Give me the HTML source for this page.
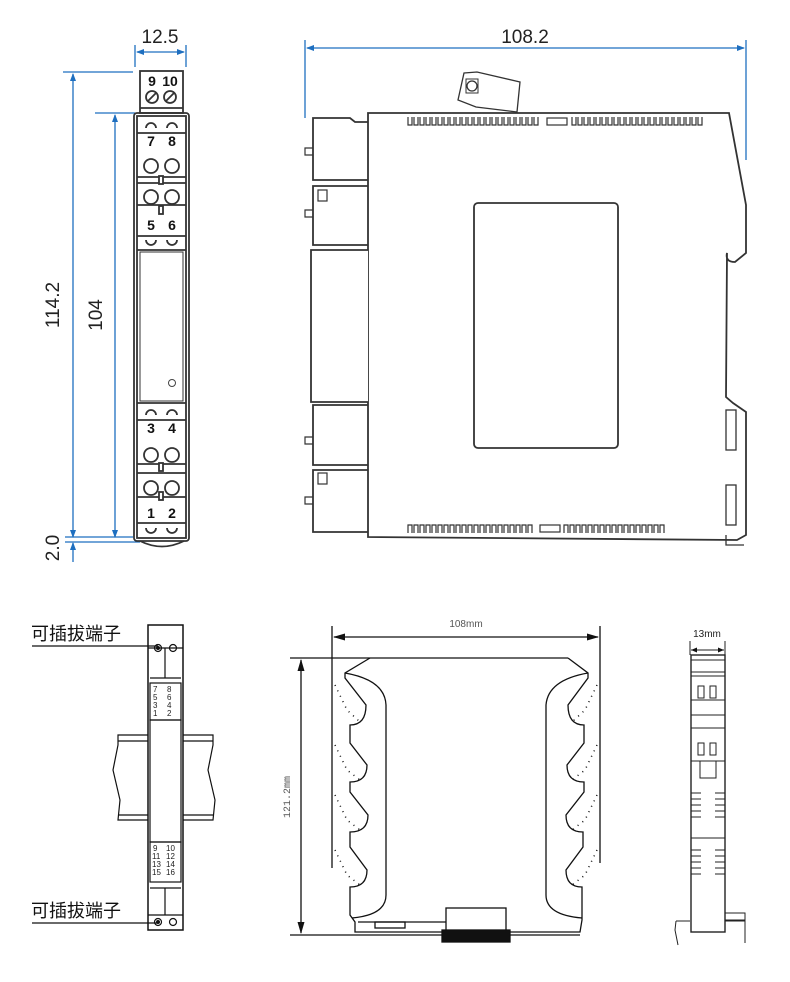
<!DOCTYPE html>
<html><head><meta charset="utf-8"><style>
html,body{margin:0;padding:0;background:#fff;}
svg{display:block;}
.b{stroke:#1e6fc0;stroke-width:1.3;fill:none}
.k{stroke:#333;stroke-width:1.8;fill:none}
.t{stroke:#444;stroke-width:1;fill:none}
.bt{font-family:"Liberation Sans",sans-serif;fill:#222}
</style></head><body>
<svg width="790" height="982" viewBox="0 0 790 982" xmlns="http://www.w3.org/2000/svg">
<defs>
<marker id="ab" markerWidth="8" markerHeight="8" refX="7" refY="4" orient="auto-start-reverse" markerUnits="userSpaceOnUse"><path d="M0,1 L8,4 L0,7 z" fill="#1e6fc0"/></marker>
<marker id="ak" markerWidth="12" markerHeight="8" refX="11" refY="4" orient="auto-start-reverse" markerUnits="userSpaceOnUse"><path d="M0,0.5 L12,4 L0,7.5 z" fill="#111"/></marker>
<marker id="as" markerWidth="6" markerHeight="6" refX="6" refY="3" orient="auto-start-reverse" markerUnits="userSpaceOnUse"><path d="M0,0.5 L6,3 L0,5.5 z" fill="#111"/></marker>
</defs>

<!-- ===== Top-left front view ===== -->
<g class="b">
<line x1="135" y1="45" x2="135" y2="67"/><line x1="186" y1="45" x2="186" y2="67"/>
<line x1="137" y1="52" x2="184" y2="52" marker-start="url(#ab)" marker-end="url(#ab)"/>
<line x1="63" y1="72" x2="133" y2="72"/><line x1="95" y1="113" x2="135" y2="113"/>
<line x1="73" y1="74" x2="73" y2="537" marker-start="url(#ab)" marker-end="url(#ab)"/>
<line x1="115" y1="115" x2="115" y2="537" marker-start="url(#ab)" marker-end="url(#ab)"/>
<line x1="65" y1="537" x2="133" y2="537"/><line x1="65" y1="542" x2="140" y2="542"/>
<line x1="73" y1="562" x2="73" y2="543" marker-end="url(#ab)"/>
</g>
<text class="bt" x="160" y="43" font-size="19" text-anchor="middle">12.5</text>
<text class="bt" font-size="19" transform="translate(59,305) rotate(-90)" text-anchor="middle">114.2</text>
<text class="bt" font-size="19" transform="translate(102,315) rotate(-90)" text-anchor="middle">104</text>
<text class="bt" font-size="19" transform="translate(59,548) rotate(-90)" text-anchor="middle">2.0</text>

<g class="k">
<rect x="140" y="71" width="43" height="42" fill="#fff"/>
<line x1="140" y1="108" x2="183" y2="108"/>
<rect x="134" y="113" width="55" height="428" rx="3"/>
<rect x="137" y="116" width="49" height="422"/>
<path d="M140 541 Q162 552 184 541"/>
<line x1="137" y1="250" x2="186" y2="250"/><line x1="137" y1="403" x2="186" y2="403"/>
<line x1="137" y1="183" x2="186" y2="183"/><line x1="137" y1="473" x2="186" y2="473"/>
<rect x="140" y="252" width="43" height="149" fill="none" stroke-width="1"/>
</g>
<circle cx="172" cy="383" r="3.5" class="t"/>
<g font-family="Liberation Sans,sans-serif" font-weight="bold" font-size="14" fill="#111" text-anchor="middle">
<text x="152" y="86">9</text><text x="170" y="86">10</text>
<text x="151" y="146">7</text><text x="172" y="146">8</text>
<text x="151" y="230">5</text><text x="172" y="230">6</text>
<text x="151" y="433">3</text><text x="172" y="433">4</text>
<text x="151" y="518">1</text><text x="172" y="518">2</text>
</g>
<g class="k" stroke-width="2.2">
<circle cx="152" cy="97" r="6"/><circle cx="170" cy="97" r="6"/>
<line x1="148" y1="101" x2="156" y2="93"/><line x1="166" y1="101" x2="174" y2="93"/>
<circle cx="151" cy="166" r="7"/><circle cx="172" cy="166" r="7"/>
<circle cx="151" cy="197" r="7"/><circle cx="172" cy="197" r="7"/>
<circle cx="151" cy="455" r="7"/><circle cx="172" cy="455" r="7"/>
<circle cx="151" cy="488" r="7"/><circle cx="172" cy="488" r="7"/>
</g>
<g class="k" stroke-width="1.6">
<line x1="137" y1="133" x2="186" y2="133"/><line x1="137" y1="236" x2="186" y2="236"/>
<line x1="137" y1="420" x2="186" y2="420"/><line x1="137" y1="523" x2="186" y2="523"/>
<line x1="137" y1="177" x2="186" y2="177"/><line x1="137" y1="205" x2="186" y2="205"/>
<line x1="137" y1="464" x2="186" y2="464"/><line x1="137" y1="497" x2="186" y2="497"/>
<path d="M146 128 a5 5 0 0 1 10 0 M167 128 a5 5 0 0 1 10 0 M146 240 a5 5 0 0 0 10 0 M167 240 a5 5 0 0 0 10 0 M146 415 a5 5 0 0 1 10 0 M167 415 a5 5 0 0 1 10 0 M146 528 a5 5 0 0 0 10 0 M167 528 a5 5 0 0 0 10 0"/>
<rect x="159" y="176" width="4" height="8" fill="#fff"/><rect x="159" y="206" width="4" height="8" fill="#fff"/>
<rect x="159" y="463" width="4" height="8" fill="#fff"/><rect x="159" y="492" width="4" height="8" fill="#fff"/>
</g>

<!-- ===== Top-right side view ===== -->
<g class="b">
<line x1="305" y1="40" x2="305" y2="118"/><line x1="746" y1="40" x2="746" y2="160"/>
<line x1="307" y1="48" x2="744" y2="48" marker-start="url(#ab)" marker-end="url(#ab)"/>
</g>
<text class="bt" x="525" y="43" font-size="19" text-anchor="middle">108.2</text>
<g class="k">
<path d="M368 113 L729 113 L746 205 L746 253 L735 262 Q725 262 727 253 L726 397 L733 403 L746 412 L746 535 L737 540 L368 537 Z" fill="#fff"/>
<path d="M368 250 L311 250 L311 402 L368 402" fill="#fff"/>
<path d="M368 122 L355 122 L350 118 L313 118 L313 180 L368 180 M368 186 L313 186 L313 245 L368 245"/>
<path d="M368 405 L313 405 L313 465 L368 465 M368 470 L313 470 L313 532 L368 532"/>
<path d="M313 148 L305 148 L305 155 L313 155 M313 210 L305 210 L305 217 L313 217 M313 437 L305 437 L305 444 L313 444 M313 497 L305 497 L305 504 L313 504" stroke-width="1.2"/>
<rect x="318" y="190" width="9" height="11" stroke-width="1.2"/><rect x="318" y="473" width="9" height="11" stroke-width="1.2"/>
<path d="M464 73 L477 72 L520 82 L517 112 L476 107 L458 100 Z" fill="#fff" stroke-width="1.3"/>
<circle cx="472" cy="86" r="5" stroke-width="1.3"/><rect x="466" y="79" width="12" height="14" stroke-width="1"/>
<rect x="474" y="203" width="144" height="245" rx="4"/>
<rect x="726" y="410" width="10" height="40" stroke-width="1.3"/><rect x="726" y="485" width="10" height="40" stroke-width="1.3"/>
<path d="M726 535 L726 545 L744 545" stroke-width="1.3"/>
</g>
<g stroke="#333" stroke-width="1.2" fill="none">
<path d="M408 117 v8 h4 v-8 M414 117 v8 h4 v-8 M420 117 v8 h4 v-8 M426 117 v8 h4 v-8 M432 117 v8 h4 v-8 M438 117 v8 h4 v-8 M444 117 v8 h4 v-8 M450 117 v8 h4 v-8 M456 117 v8 h4 v-8 M462 117 v8 h4 v-8 M468 117 v8 h4 v-8 M474 117 v8 h4 v-8 M480 117 v8 h4 v-8 M486 117 v8 h4 v-8 M492 117 v8 h4 v-8 M498 117 v8 h4 v-8 M504 117 v8 h4 v-8 M510 117 v8 h4 v-8 M516 117 v8 h4 v-8 M522 117 v8 h4 v-8 M528 117 v8 h4 v-8 M534 117 v8 h4 v-8"/>
<rect x="547" y="118" width="20" height="7"/>
<path d="M572 117 v8 h4 v-8 M578 117 v8 h4 v-8 M584 117 v8 h4 v-8 M590 117 v8 h4 v-8 M596 117 v8 h4 v-8 M602 117 v8 h4 v-8 M608 117 v8 h4 v-8 M614 117 v8 h4 v-8 M620 117 v8 h4 v-8 M626 117 v8 h4 v-8 M632 117 v8 h4 v-8 M638 117 v8 h4 v-8 M644 117 v8 h4 v-8 M650 117 v8 h4 v-8 M656 117 v8 h4 v-8 M662 117 v8 h4 v-8 M668 117 v8 h4 v-8 M674 117 v8 h4 v-8 M680 117 v8 h4 v-8 M686 117 v8 h4 v-8 M692 117 v8 h4 v-8 M698 117 v8 h4 v-8"/>
<path d="M408 533 v-8 h4 v8 M414 533 v-8 h4 v8 M420 533 v-8 h4 v8 M426 533 v-8 h4 v8 M432 533 v-8 h4 v8 M438 533 v-8 h4 v8 M444 533 v-8 h4 v8 M450 533 v-8 h4 v8 M456 533 v-8 h4 v8 M462 533 v-8 h4 v8 M468 533 v-8 h4 v8 M474 533 v-8 h4 v8 M480 533 v-8 h4 v8 M486 533 v-8 h4 v8 M492 533 v-8 h4 v8 M498 533 v-8 h4 v8 M504 533 v-8 h4 v8 M510 533 v-8 h4 v8 M516 533 v-8 h4 v8 M522 533 v-8 h4 v8 M528 533 v-8 h4 v8"/>
<rect x="540" y="525" width="20" height="7"/>
<path d="M564 533 v-8 h4 v8 M570 533 v-8 h4 v8 M576 533 v-8 h4 v8 M582 533 v-8 h4 v8 M588 533 v-8 h4 v8 M594 533 v-8 h4 v8 M600 533 v-8 h4 v8 M606 533 v-8 h4 v8 M612 533 v-8 h4 v8 M618 533 v-8 h4 v8 M624 533 v-8 h4 v8 M630 533 v-8 h4 v8 M636 533 v-8 h4 v8 M642 533 v-8 h4 v8 M648 533 v-8 h4 v8 M654 533 v-8 h4 v8 M660 533 v-8 h4 v8"/>
</g>

<!-- ===== Bottom-left ===== -->
<g font-family="Liberation Sans,Noto Sans CJK SC,sans-serif" font-size="18" fill="#111">
<text x="31" y="640">可插拔端子</text>
<text x="31" y="917">可插拔端子</text>
</g>
<g stroke="#111" stroke-width="1.2" fill="none">
<line x1="32" y1="646" x2="158" y2="646"/><line x1="32" y1="923" x2="158" y2="923"/>
<path d="M148 735 L118 735 L118 745 L113 770 L120 800 L118 820 L148 820 M183 735 L213 735 L213 745 L208 770 L215 800 L213 820 L183 820" fill="#fff"/>
<line x1="118" y1="741" x2="148" y2="741"/><line x1="183" y1="741" x2="213" y2="741"/>
<line x1="118" y1="815" x2="148" y2="815"/><line x1="183" y1="815" x2="213" y2="815"/>
<rect x="148" y="625" width="35" height="305" fill="none" stroke-width="1.5"/>
<line x1="148" y1="648" x2="183" y2="648"/><line x1="150" y1="678" x2="181" y2="678"/>
<line x1="165" y1="648" x2="165" y2="678"/>
<rect x="150" y="683" width="31" height="37"/><rect x="150" y="720" width="31" height="122"/>
<rect x="150" y="842" width="31" height="40"/>
<line x1="150" y1="888" x2="181" y2="888"/><line x1="165" y1="888" x2="165" y2="915"/>
<line x1="148" y1="915" x2="183" y2="915"/>
<circle cx="158" cy="648" r="3.5"/><circle cx="173" cy="648" r="3.5"/>
<circle cx="158" cy="922" r="3.5"/><circle cx="173" cy="922" r="3.5"/>
</g>
<circle cx="158" cy="648" r="2" fill="#111"/><circle cx="158" cy="922" r="2" fill="#111"/>
<g font-family="Liberation Sans,sans-serif" font-size="8" fill="#222">
<text x="153" y="692">7</text><text x="167" y="692">8</text>
<text x="153" y="700">5</text><text x="167" y="700">6</text>
<text x="153" y="708">3</text><text x="167" y="708">4</text>
<text x="153" y="716">1</text><text x="167" y="716">2</text>
<text x="153" y="851">9</text><text x="166" y="851">10</text>
<text x="152" y="859">11</text><text x="166" y="859">12</text>
<text x="152" y="867">13</text><text x="166" y="867">14</text>
<text x="152" y="875">15</text><text x="166" y="875">16</text>
</g>

<!-- ===== Bottom-middle ===== -->
<g stroke="#111" stroke-width="1.3" fill="none">
<line x1="332" y1="626" x2="332" y2="868"/><line x1="600" y1="626" x2="600" y2="863"/>
<line x1="334" y1="637" x2="598" y2="637" marker-start="url(#ak)" marker-end="url(#ak)"/>
<line x1="290" y1="658" x2="568" y2="658"/><line x1="290" y1="935" x2="580" y2="935"/>
<line x1="301" y1="660" x2="301" y2="933" marker-start="url(#ak)" marker-end="url(#ak)"/>
<path d="M370 658 L345 673 L345 678 L366 705 Q366 725 350 725 L350 743 L367 765 Q367 782 350 782 L350 792 L368 815 Q368 832 350 832 L350 847 L367 870 Q367 887 350 887 L350 915 L355 922 L355 932 L580 932 L582 920 L582 887 Q566 887 566 870 L583 847 L583 832 Q566 832 566 815 L584 792 L584 782 Q567 782 567 765 L584 743 L584 725 Q568 725 568 705 L588 678 L588 673 L568 658"/>
<path d="M345 673 Q385 680 386 705 L386 895 Q386 915 352 918"/>
<path d="M588 673 Q548 680 546 705 L546 895 Q546 915 582 918"/>
<rect x="446" y="908" width="60" height="27" fill="#fff"/>
<rect x="442" y="930" width="68" height="12" fill="#111"/>
<line x1="358" y1="922" x2="446" y2="922"/><rect x="375" y="922" width="30" height="6"/>
</g>
<g fill="#555" font-family="Liberation Mono,monospace" font-size="10">
<text x="466" y="627" text-anchor="middle" font-family="Liberation Sans,sans-serif">108mm</text>
<text transform="translate(290,797) rotate(-90)" text-anchor="middle">121.2mm</text>
</g>
<g stroke="#111" stroke-width="1.5" stroke-dasharray="1 5" fill="none">
<path d="M335 685 L347 710 L360 722 M335 745 L347 770 L360 780 M335 795 L347 820 L360 830 M335 850 L347 875 L360 885"/>
<path d="M597 685 L585 710 L572 722 M597 745 L585 770 L572 780 M597 795 L585 820 L572 830 M597 850 L585 875 L572 885"/>
</g>

<!-- ===== Bottom-right ===== -->
<text x="707" y="637" font-family="Liberation Sans,sans-serif" font-size="10" fill="#222" text-anchor="middle">13mm</text>
<g stroke="#222" stroke-width="1" fill="none">
<line x1="690" y1="641" x2="690" y2="655"/><line x1="725" y1="641" x2="725" y2="655"/>
<line x1="691" y1="650" x2="724" y2="650" marker-start="url(#as)" marker-end="url(#as)"/>
<path d="M676 921 L690 921 M725 921 L745 921 L745 943 M676 921 L675 930 L678 945" />
<rect x="725" y="913" width="20" height="7"/>
<rect x="691" y="655" width="34" height="277" stroke-width="1.4"/>
<line x1="691" y1="660" x2="725" y2="660"/><line x1="691" y1="672" x2="725" y2="672"/>
<line x1="691" y1="676" x2="725" y2="676"/><line x1="691" y1="700" x2="725" y2="700"/>
<line x1="691" y1="715" x2="725" y2="715"/><line x1="691" y1="728" x2="725" y2="728"/>
<line x1="691" y1="761" x2="725" y2="761"/>
<rect x="698" y="686" width="6" height="12"/><rect x="710" y="686" width="6" height="12"/>
<rect x="698" y="743" width="6" height="12"/><rect x="710" y="743" width="6" height="12"/>
<rect x="700" y="761" width="16" height="17"/>
<path d="M691 793 h10 M691 799 h10 M691 805 h10 M691 811 h10 M691 817 h10 M715 793 h10 M715 799 h10 M715 805 h10 M715 811 h10 M715 817 h10"/>
<path d="M691 850 h10 M691 856 h10 M691 862 h10 M691 868 h10 M691 874 h10 M715 850 h10 M715 856 h10 M715 862 h10 M715 868 h10 M715 874 h10"/>
<line x1="691" y1="838" x2="725" y2="838"/>
</g>
</svg>
</body></html>
